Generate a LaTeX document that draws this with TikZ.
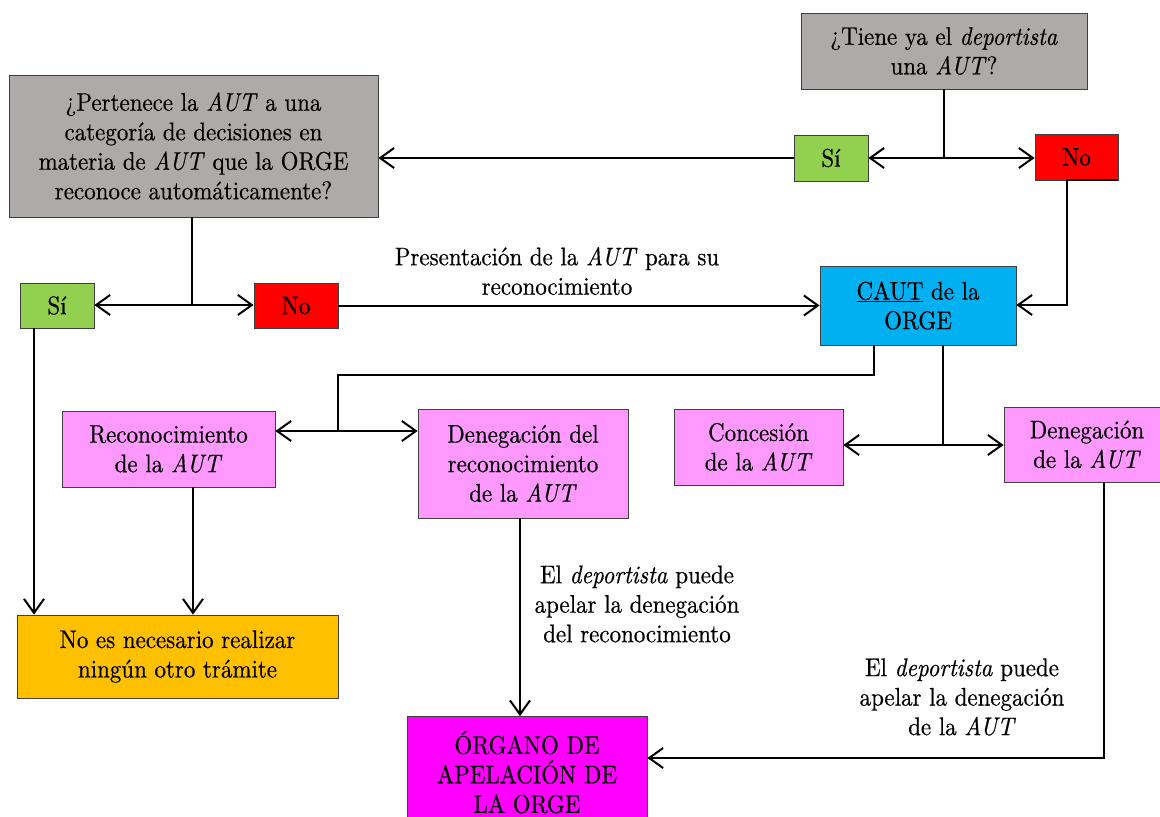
\documentclass[tikz,border=0pt]{standalone}
\usepackage{fontspec}
\setmainfont{lmroman10-regular.otf}[ItalicFont=lmroman10-italic.otf,BoldFont=lmroman10-bold.otf,FakeStretch=0.9,FakeBold=0.5]
\usetikzlibrary{arrows.meta}
\definecolor{boxgray}{HTML}{AEAAAA}
\definecolor{sigreen}{HTML}{92D050}
\definecolor{nored}{HTML}{FF0000}
\definecolor{cautblue}{HTML}{00B0F0}
\definecolor{pinkbox}{HTML}{FF99FF}
\definecolor{orangebox}{HTML}{FFC000}
\definecolor{magentabox}{HTML}{FF00FF}
\begin{document}
\begin{tikzpicture}[x=1pt,y=-1pt,
  box/.style={draw=black!75,line width=0.8pt,align=center,inner sep=0pt,font=\fontsize{25.5}{29.5}\selectfont},
  lbl/.style={align=center,inner sep=0pt,font=\fontsize{25.5}{29.5}\selectfont},
  arr/.style={line width=2pt,-{Straight Barb[length=14pt,width=20pt]}},
  ln/.style={line width=2pt}]
\clip (0,0) rectangle (1160,817);
\fill[white] (0,0) rectangle (1160,817);
% boxes
\node[box,fill=boxgray,minimum width=286pt,minimum height=76pt] (q1) at (944,51) {¿Tiene ya el \textit{deportista}\\una \textit{AUT}?};
\node[box,fill=sigreen,minimum width=74pt,minimum height=46pt] (si1) at (831,158) {Sí};
\node[box,fill=nored,minimum width=83pt,minimum height=46pt] (no1) at (1076.5,157) {No};
\node[box,fill=boxgray,minimum width=369pt,minimum height=142pt] (q2) at (193.5,146) {¿Pertenece la \textit{AUT} a una\\categoría de decisiones en\\materia de \textit{AUT} que la ORGE\\reconoce automáticamente?};
\node[box,fill=sigreen,minimum width=74pt,minimum height=45pt] (si2) at (57,305.5) {Sí};
\node[box,fill=nored,minimum width=84pt,minimum height=45pt] (no2) at (296,305.5) {No};
\node[box,fill=cautblue,minimum width=196pt,minimum height=79pt] (caut) at (918,305.5) {\underline{CAUT} de la\\ORGE};
\node[box,fill=pinkbox,minimum width=213pt,minimum height=76pt] (rec) at (168.5,449) {Reconocimiento\\de la \textit{AUT}};
\node[box,fill=pinkbox,minimum width=210pt,minimum height=109pt] (denrec) at (523,463.5) {Denegación del\\reconocimiento\\de la \textit{AUT}};
\node[box,fill=pinkbox,minimum width=169pt,minimum height=76pt] (conc) at (758.5,447) {Concesión\\de la \textit{AUT}};
\node[box,fill=pinkbox,minimum width=166pt,minimum height=75pt] (denaut) at (1087,444.5) {Denegación\\de la \textit{AUT}};
\node[box,fill=orangebox,minimum width=321pt,minimum height=83pt] (noes) at (177.5,656.5) {No es necesario realizar\\ningún otro trámite};
\node[box,fill=magentabox,minimum width=240pt,minimum height=111pt] (organo) at (527,772) {ÓRGANO DE\\APELACIÓN DE\\LA ORGE};
% labels
\node[lbl] (l1) at (557,271) {Presentación de la \textit{AUT} para su\\reconocimiento};
\node[lbl] (l2) at (637,604) {El \textit{deportista} puede\\apelar la denegación\\del reconocimiento};
\node[lbl] (l3) at (962,697) {El \textit{deportista} puede\\apelar la denegación\\de la \textit{AUT}};
% connectors
\coordinate (j1) at (944,158);
\draw[ln] (q1.south) -- (j1);
\draw[arr] (j1) -- (j1 -| si1.east);
\draw[arr] (j1) -- (j1 -| no1.west);
\draw[arr] (si1.west) -- (si1.west -| q2.east);
\coordinate (j2) at (192,305);
\draw[ln] (q2.south -| j2) -- (j2);
\draw[arr] (j2) -- (j2 -| si2.east);
\draw[arr] (j2) -- (j2 -| no2.west);
\draw[arr] (no2.east) -- (no2.east -| caut.west);
\coordinate (c1) at (1067,305);
\draw[arr] (no1.south east) -- (no1.south -| c1) -- (c1) -- (c1 -| caut.east);
\coordinate (c2) at (874,375);
\coordinate (j3) at (338,431);
\draw[ln] (caut.south -| c2) -- (c2) -- (c2 -| j3) -- (j3);
\draw[arr] (j3) -- (j3 -| rec.east);
\draw[arr] (j3) -- (j3 -| denrec.west);
\coordinate (j4) at (943,445);
\draw[ln] (caut.south -| j4) -- (j4);
\draw[arr] (j4) -- (j4 -| conc.east);
\draw[arr] (j4) -- (j4 -| denaut.west);
\coordinate (c3) at (34,329);
\draw[arr] (si2.south -| c3) -- (c3 |- noes.north);
\coordinate (c4) at (193,487);
\draw[arr] (rec.south -| c4) -- (c4 |- noes.north);
\coordinate (c5) at (520,518);
\draw[arr] (denrec.south -| c5) -- (c5 |- organo.north);
\coordinate (c6) at (1104,758);
\draw[arr] (denaut.south -| c6) -- (c6) -- (c6 -| organo.east);
\end{tikzpicture}
\end{document}
